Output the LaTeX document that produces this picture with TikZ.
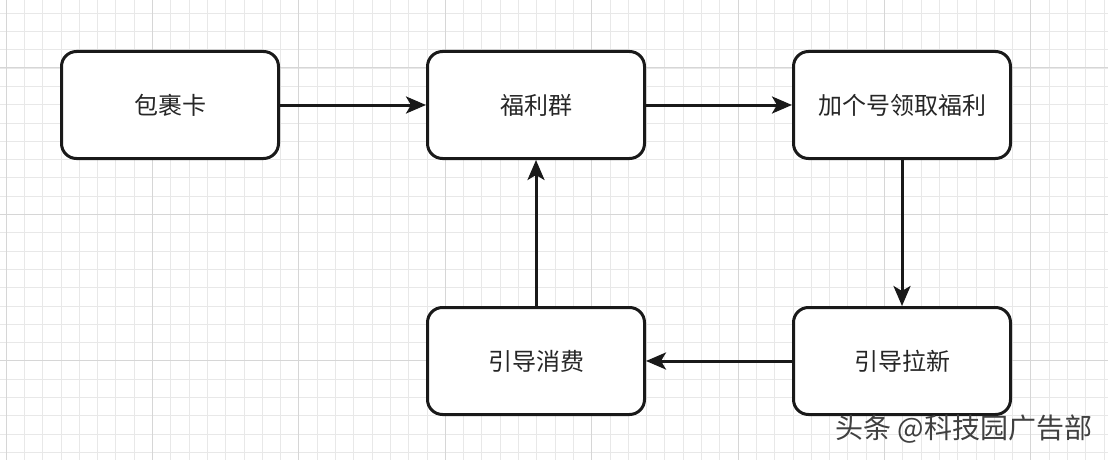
\documentclass[tikz,border=0pt]{standalone}
\usepackage{fontspec}
\setmainfont{Noto Sans CJK SC}
\usetikzlibrary{arrows.meta}
\tikzset{
  flowbox/.style={draw=black!90, line width=3pt, rounded corners=15pt, fill=white,
    minimum width=217pt, minimum height=107pt, inner sep=0pt,
    font=\fontsize{24pt}{28pt}\selectfont, text=black!85},
  flowarrow/.style={line width=3pt, draw=black!90,
    -{Stealth[length=20pt,width=17pt,inset=5pt]}},
}
\begin{document}
\begin{tikzpicture}[x=1pt,y=-1pt]
\useasboundingbox (0,0) rectangle (1108,460);
\fill[white] (0,0) rectangle (1108,460);
% minor grid
\foreach \i in {0,...,60} {
  \draw[black!9, line width=0.8pt] ({6+18.3*\i},0) -- ({6+18.3*\i},460);
}
\foreach \j in {0,...,25} {
  \draw[black!9, line width=0.8pt] (0,{13.1+18.3*\j}) -- (1108,{13.1+18.3*\j});
}
% major grid
\foreach \i in {0,...,7} {
  \draw[black!16, line width=1pt] ({6+146.4*\i},0) -- ({6+146.4*\i},460);
}
\foreach \j in {0,...,3} {
  \draw[black!16, line width=1pt] (0,{68+146.4*\j}) -- (1108,{68+146.4*\j});
}
% boxes
\node[flowbox] (b1) at (170,105) {包裹卡};
\node[flowbox] (b2) at (536,105) {福利群};
\node[flowbox] (b3) at (902,105) {加个号领取福利};
\node[flowbox] (b4) at (536,361) {引导消费};
\node[flowbox] (b5) at (902,361) {引导拉新};
% connectors
\draw[flowarrow] (b1.east) -- (b2.west);
\draw[flowarrow] (b2.east) -- (b3.west);
\draw[flowarrow] (b3.south) -- (b5.north);
\draw[flowarrow] (b5.west) -- (b4.east);
\draw[flowarrow] (b4.north) -- (b2.south);
% watermark
\node[font=\fontsize{28pt}{32pt}\selectfont, text=black!75, inner sep=0pt] (wm) at (964,429) {头条 @科技园广告部};
\end{tikzpicture}
\end{document}
